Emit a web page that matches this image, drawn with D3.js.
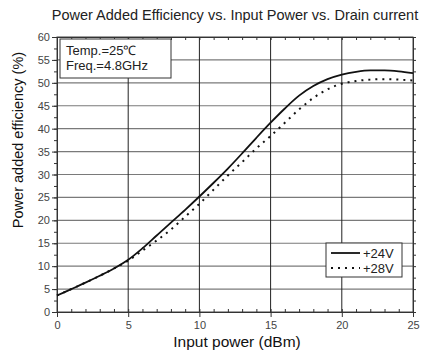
<!DOCTYPE html>
<html>
<head>
<meta charset="utf-8">
<script src="https://cdn.jsdelivr.net/npm/d3@7"></script>
<style>
  body { margin: 0; background: #fff; }
  svg { font-family: Arial, "Liberation Sans", sans-serif; }
</style>
</head>
<body>
<div id="chart"></div>
<script>
// Input power (dBm)
const inputPower = [0, 1, 2, 3, 4, 5, 6, 7, 8, 9, 10, 11, 12, 13, 14, 15, 16, 17, 18, 19, 20, 21, 22, 23, 24, 25];
// PAE (%) at +24V drain
const pae24 = [3.6, 5.0, 6.4, 7.9, 9.5, 11.4, 13.9, 16.7, 19.5, 22.3, 25.2, 28.2, 31.3, 34.6, 38.0, 41.3, 44.4, 47.2, 49.3, 50.8, 51.8, 52.4, 52.7, 52.7, 52.5, 52.1];
// PAE (%) at +28V drain
const pae28 = [3.6, 5.0, 6.4, 7.9, 9.5, 11.2, 13.4, 15.6, 18.0, 20.8, 23.6, 26.7, 29.8, 32.7, 35.7, 38.4, 41.3, 44.2, 46.7, 48.6, 49.8, 50.4, 50.7, 50.8, 50.7, 50.5];
const seriesNames = ["+24V", "+28V"];
const xTicks = [0, 5, 10, 15, 20, 25];
const yTicks = [0, 5, 10, 15, 20, 25, 30, 35, 40, 45, 50, 55, 60];
const noteLines = ["Temp.=25\u2103", "Freq.=4.8GHz"];

const width = 422, height = 356;
const margin = {top: 37, right: 9, bottom: 44, left: 57};
const innerW = width - margin.left - margin.right;
const innerH = height - margin.top - margin.bottom;

const svg = d3.select("#chart").append("svg")
    .attr("width", width)
    .attr("height", height);

const g = svg.append("g")
    .attr("transform", `translate(${margin.left},${margin.top})`);

const x = d3.scaleLinear().domain([0, 25]).range([0, innerW]);
const y = d3.scaleLinear().domain([0, 60]).range([innerH, 0]);

// grid
g.append("g").selectAll("line")
    .data(yTicks.filter(d => d > 0 && d < 60))
    .enter().append("line")
    .attr("x1", 0).attr("x2", innerW)
    .attr("y1", d => y(d)).attr("y2", d => y(d))
    .style("stroke", "#7a7a7a").style("stroke-width", 1.2);

g.append("g").selectAll("line")
    .data(xTicks.filter(d => d > 0 && d < 25))
    .enter().append("line")
    .attr("x1", d => x(d)).attr("x2", d => x(d))
    .attr("y1", 0).attr("y2", innerH)
    .style("stroke", "#222").style("stroke-width", 1);

// frame
g.append("rect")
    .attr("width", innerW).attr("height", innerH)
    .style("fill", "none").style("stroke", "#444").style("stroke-width", 1);

// bottom axis (major out, minor in)
g.append("g").attr("transform", `translate(0,${innerH})`)
    .call(d3.axisBottom(x).tickValues(xTicks).tickSize(5).tickPadding(4));
g.append("g").attr("transform", `translate(0,${innerH})`)
    .call(d3.axisBottom(x).tickValues(d3.range(0, 26)).tickSize(-3).tickFormat(""));
// top minor ticks
g.append("g")
    .call(d3.axisTop(x).tickValues(d3.range(0, 26)).tickSize(-3).tickFormat(""));

// left axis
g.append("g")
    .call(d3.axisLeft(y).tickValues(yTicks).tickSize(5).tickPadding(2));
g.append("g")
    .call(d3.axisLeft(y).tickValues(d3.range(0, 61, 2.5)).tickSize(3).tickFormat(""));
// right ticks
g.append("g").attr("transform", `translate(${innerW},0)`)
    .call(d3.axisRight(y).tickValues(d3.range(0, 61, 2.5)).tickSize(3).tickFormat(""));

g.selectAll(".domain").style("stroke", "#333");
g.selectAll(".tick line").style("stroke", "#333");
g.selectAll(".tick text").style("font-size", "11px").style("fill", "#444")
    .style("font-family", "Arial, 'Liberation Sans', sans-serif");

// lines
const line = d3.line()
    .x((d, i) => x(inputPower[i]))
    .y(d => y(d))
    .curve(d3.curveMonotoneX);

g.append("path").datum(pae24)
    .attr("d", line)
    .style("fill", "none").style("stroke", "#111").style("stroke-width", 1.8);

g.append("path").datum(pae28)
    .attr("d", line)
    .style("fill", "none").style("stroke", "#111").style("stroke-width", 2)
    .style("stroke-dasharray", "2,5");

// note box
const note = g.append("g").attr("transform", "translate(3,2)");
note.append("rect")
    .attr("width", 111).attr("height", 39)
    .style("fill", "#fff").style("stroke", "#333").style("stroke-width", 1);
note.selectAll("text").data(noteLines).enter().append("text")
    .attr("x", 6).attr("y", (d, i) => 16 + i * 15)
    .text(d => d)
    .style("font-size", "13px").style("fill", "#222");

// legend
const leg = g.append("g").attr("transform", `translate(${326 - margin.left},${243 - margin.top})`);
leg.append("rect")
    .attr("width", 76).attr("height", 34)
    .style("fill", "#fff").style("stroke", "#333").style("stroke-width", 1);
seriesNames.forEach((name, i) => {
    const yy = 10 + i * 15;
    leg.append("line")
        .attr("x1", 5).attr("x2", 34).attr("y1", yy).attr("y2", yy)
        .style("stroke", "#111").style("stroke-width", i ? 2 : 1.8)
        .style("stroke-dasharray", i ? "2,5" : null);
    leg.append("text")
        .attr("x", 37).attr("y", yy + 5)
        .text(name)
        .style("font-size", "13px").style("fill", "#222");
});

// title
svg.append("text")
    .attr("x", margin.left + innerW / 2).attr("y", 20)
    .attr("text-anchor", "middle")
    .text("Power Added Efficiency vs. Input Power vs. Drain current")
    .style("font-size", "14.5px").style("fill", "#222");

// axis titles
svg.append("text")
    .attr("x", margin.left + innerW / 2 + 2).attr("y", 347)
    .attr("text-anchor", "middle")
    .text("Input power (dBm)")
    .style("font-size", "15.5px").style("fill", "#111");

svg.append("text")
    .attr("transform", "translate(23,140) rotate(-90)")
    .attr("text-anchor", "middle")
    .text("Power added efficiency (%)")
    .style("font-size", "14.5px").style("fill", "#111");
</script>
</body>
</html>
